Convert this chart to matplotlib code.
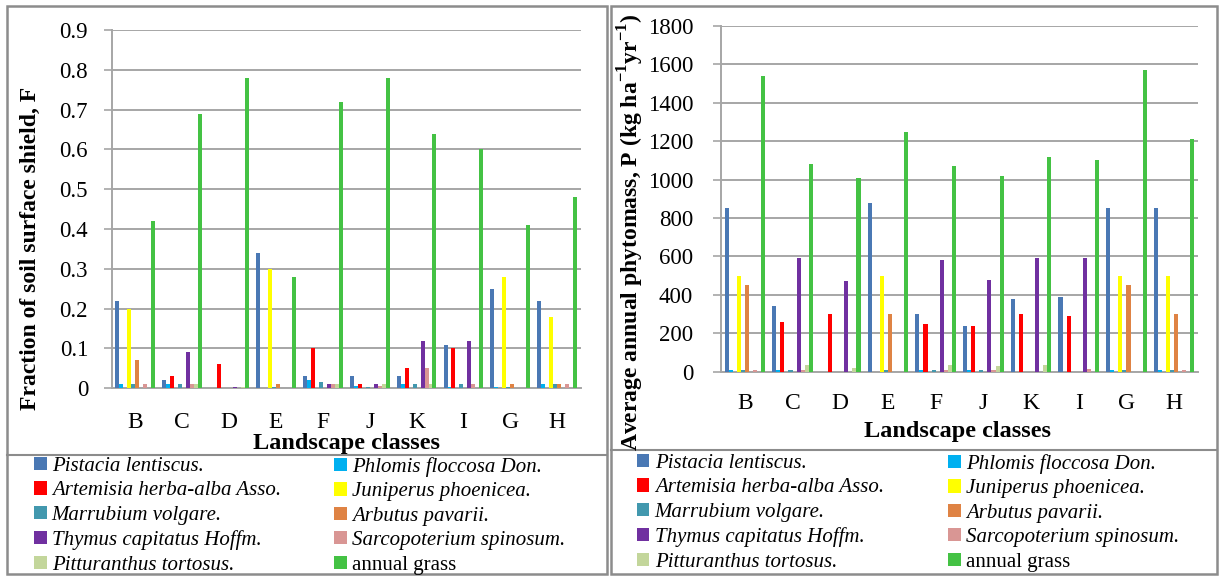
import matplotlib
matplotlib.use("Agg")
import matplotlib.pyplot as plt
from matplotlib.patches import Patch, Rectangle
from matplotlib.lines import Line2D
import numpy as np

plt.rcParams["font.family"] = ["Liberation Serif", "DejaVu Serif"]
plt.rcParams["mathtext.fontset"] = "custom"
plt.rcParams["mathtext.rm"] = "Liberation Serif:bold"
plt.rcParams["mathtext.bf"] = "Liberation Serif:bold"

# ---- data -------------------------------------------------------------
classes = ["B", "C", "D", "E", "F", "J", "K", "I", "G", "H"]

species = [
    "Pistacia lentiscus.", "Phlomis floccosa Don.",
    "Artemisia herba-alba Asso.", "Juniperus phoenicea.",
    "Marrubium volgare.", "Arbutus pavarii.",
    "Thymus capitatus Hoffm.", "Sarcopoterium spinosum.",
    "Pitturanthus tortosus.", "annual grass",
]
italic = [True] * 9 + [False]

colors = ["#4A78B4", "#00B0F0", "#FF0000", "#FFFF00", "#4298AE",
          "#DF8344", "#7030A0", "#D99694", "#C3D69B", "#44C244"]

# Fraction of soil surface shield, F  (one list per species, across classes)
shield_pistacia = [0.22, 0.02, 0.0, 0.34, 0.03, 0.03, 0.03, 0.11, 0.25, 0.22]
shield_phlomis = [0.01, 0.01, 0.0, 0.0, 0.02, 0.005, 0.01, 0.003, 0.003, 0.01]
shield_artemisia = [0.0, 0.03, 0.06, 0.0, 0.10, 0.01, 0.05, 0.10, 0.0, 0.0]
shield_juniperus = [0.20, 0.0, 0.0, 0.30, 0.0, 0.0, 0.0, 0.0, 0.28, 0.18]
shield_marrubium = [0.01, 0.01, 0.0, 0.003, 0.015, 0.003, 0.01, 0.01, 0.003, 0.01]
shield_arbutus = [0.07, 0.0, 0.0, 0.01, 0.0, 0.0, 0.0, 0.0, 0.01, 0.01]
shield_thymus = [0.0, 0.09, 0.003, 0.0, 0.01, 0.01, 0.12, 0.12, 0.0, 0.0]
shield_sarcopoterium = [0.01, 0.01, 0.0, 0.0, 0.01, 0.005, 0.05, 0.01, 0.0, 0.01]
shield_pitturanthus = [0.0, 0.01, 0.003, 0.0, 0.01, 0.01, 0.01, 0.0, 0.0, 0.0]
shield_grass = [0.42, 0.69, 0.78, 0.28, 0.72, 0.78, 0.64, 0.60, 0.41, 0.48]

# Average annual phytomass, P (kg ha-1 yr-1)
mass_pistacia = [850, 340, 0, 880, 300, 240, 380, 390, 850, 850]
mass_phlomis = [10, 10, 0, 0, 10, 10, 0, 0, 10, 10]
mass_artemisia = [0, 260, 300, 0, 250, 240, 300, 290, 0, 0]
mass_juniperus = [500, 0, 0, 500, 0, 0, 0, 0, 500, 500]
mass_marrubium = [10, 10, 0, 10, 10, 10, 0, 0, 10, 10]
mass_arbutus = [450, 0, 0, 300, 0, 0, 0, 0, 450, 300]
mass_thymus = [0, 590, 470, 0, 580, 480, 590, 590, 0, 0]
mass_sarcopoterium = [10, 10, 0, 0, 10, 10, 0, 15, 0, 10]
mass_pitturanthus = [0, 35, 20, 0, 35, 30, 35, 0, 0, 0]
mass_grass = [1540, 1080, 1010, 1250, 1070, 1020, 1120, 1100, 1570, 1210]

shield = [shield_pistacia, shield_phlomis, shield_artemisia, shield_juniperus,
          shield_marrubium, shield_arbutus, shield_thymus,
          shield_sarcopoterium, shield_pitturanthus, shield_grass]
mass = [mass_pistacia, mass_phlomis, mass_artemisia, mass_juniperus,
        mass_marrubium, mass_arbutus, mass_thymus,
        mass_sarcopoterium, mass_pitturanthus, mass_grass]

shield_ticks = [0, 0.1, 0.2, 0.3, 0.4, 0.5, 0.6, 0.7, 0.8, 0.9]
mass_ticks = [0, 200, 400, 600, 800, 1000, 1200, 1400, 1600, 1800]

# ---- figure -----------------------------------------------------------
W, H = 1220, 576
fig = plt.figure(figsize=(W / 100, H / 100), dpi=100)


def box(x0, y0, x1, y1):
    """Axes rectangle from pixel corners (top-left origin)."""
    return [x0 / W, 1 - y1 / H, (x1 - x0) / W, (y1 - y0) / H]


def fx(x):
    return x / W


def fy(y):
    return 1 - y / H


GRID = "#A6A6A6"
TICK_FS = 16.5
BAR_W = 0.085


def draw_panel(ax, values, ticks, tick_labels, pad_x):
    x = np.arange(len(classes))
    n = len(values)
    for i, vals in enumerate(values):
        off = (i - (n - 1) / 2) * BAR_W
        ax.bar(x + off, vals, width=BAR_W, color=colors[i], linewidth=0,
               zorder=3)
    ax.set_xlim(-0.5, len(classes) - 0.5)
    ax.set_ylim(ticks[0], ticks[-1])
    ax.set_yticks(ticks)
    ax.set_yticklabels(tick_labels, fontsize=TICK_FS)
    ax.set_xticks(x)
    ax.set_xticklabels(classes, fontsize=17)
    ax.tick_params(axis="x", length=0, pad=pad_x)
    ax.tick_params(axis="y", length=6, width=1.2, color=GRID, pad=11)
    ax.grid(axis="y", color=GRID, linewidth=1.4, zorder=0)
    ax.set_axisbelow(True)
    for s in ("top", "right"):
        ax.spines[s].set_visible(False)
    for s in ("left", "bottom"):
        ax.spines[s].set_color(GRID)
        ax.spines[s].set_linewidth(1.4)


# left panel: soil surface shield
axL = fig.add_axes(box(111.7, 30, 580.7, 388.3))
draw_panel(axL, shield, shield_ticks, [f"{t:g}" for t in shield_ticks], 17)
fig.text(fx(30), fy(248), "Fraction of soil surface shield, F",
         rotation=90, ha="center", va="center", fontsize=17,
         fontweight="bold")
fig.text(fx(346), fy(443), "Landscape classes", ha="center", va="center",
         fontsize=17.5, fontweight="bold")

# right panel: annual phytomass
axR = fig.add_axes(box(721, 26, 1198, 371.7))
draw_panel(axR, mass, mass_ticks, [str(t) for t in mass_ticks], 15)
axR.tick_params(axis="y", pad=14)
fig.text(fx(631), fy(232),
         r"Average annual phytomass, P (kg ha$^{-1}$yr$^{-1}$)",
         rotation=90, ha="center", va="center", fontsize=17,
         fontweight="bold")
fig.text(fx(958), fy(432), "Landscape classes", ha="center", va="center",
         fontsize=17.5, fontweight="bold")

# ---- legends (two columns per panel) ---------------------------------
handles = [Patch(facecolor=c, edgecolor="none") for c in colors]


def add_legend(x_px, y_px, idx):
    leg = fig.legend([handles[i] for i in idx], [species[i] for i in idx],
                     loc="upper left", bbox_to_anchor=(fx(x_px), fy(y_px)),
                     frameon=False, fontsize=15, handlelength=0.6,
                     handleheight=0.6, handletextpad=0.25, labelspacing=0.26,
                     borderpad=0, borderaxespad=0)
    for t, i in zip(leg.get_texts(), idx):
        if italic[i]:
            t.set_fontstyle("italic")
    return leg


col1 = [0, 2, 4, 6, 8]
col2 = [1, 3, 5, 7, 9]
add_legend(34, 457, col1)
add_legend(334, 457, col2)
add_legend(637, 454, col1)
add_legend(948, 454, col2)

# ---- panel frames ----------------------------------------------------
FRAME = "#8C8C8C"
for (x0, x1, ytop, yleg) in [(7, 607, 6, 455), (611, 1217, 6, 450)]:
    fig.add_artist(Rectangle((fx(x0), fy(574)), fx(x1) - fx(x0),
                             fy(ytop) - fy(574), transform=fig.transFigure,
                             fill=False, edgecolor=FRAME, linewidth=1.8))
    fig.add_artist(Line2D([fx(x0), fx(x1)], [fy(yleg), fy(yleg)],
                          transform=fig.transFigure, color=FRAME,
                          linewidth=1.5))

fig.savefig("out.png", dpi=100)
